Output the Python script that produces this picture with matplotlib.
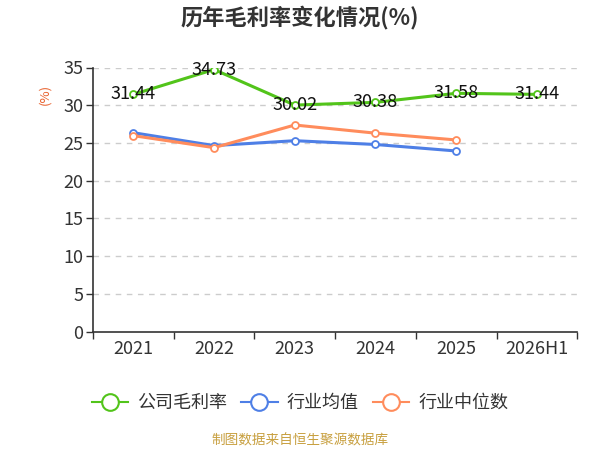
import matplotlib
matplotlib.use("Agg")
import matplotlib.pyplot as plt
from matplotlib.lines import Line2D

plt.rcParams['font.family'] = ['Noto Sans CJK SC', 'DejaVu Sans']

categories = ["2021", "2022", "2023", "2024", "2025", "2026H1"]
company = [31.44, 34.73, 30.02, 30.38, 31.58, 31.44]
industry_avg = [26.36, 24.65, 25.3, 24.8, 23.94]
industry_median = [25.97, 24.38, 27.38, 26.3, 25.4]
series_names = ["公司毛利率", "行业均值", "行业中位数"]
yticks = [0, 5, 10, 15, 20, 25, 30, 35]

green = "#52c41a"
blue = "#4e7fe6"
orange = "#ff8c5c"
colors = [green, blue, orange]

fig = plt.figure(figsize=(6, 4.5), dpi=100)
ax = fig.add_axes([0.155, 0.263, 0.807, 0.587])

x = list(range(len(categories)))
mk = dict(marker='o', markersize=5, markerfacecolor='white', markeredgewidth=1.3)
ax.plot(x, company, color=green, lw=2.2, markeredgecolor=green, zorder=3, **mk)
ax.plot(x[:len(industry_avg)], industry_avg, color=blue, lw=2.2, markeredgecolor=blue, zorder=3, **mk)
ax.plot(x[:len(industry_median)], industry_median, color=orange, lw=2.2, markeredgecolor=orange, zorder=3, **mk)

for xi, v in zip(x, company):
    ax.text(xi, v, f"{v:.2f}", ha='center', va='center', fontsize=13, color='#111111', zorder=4)

ax.set_xlim(-0.5, len(categories) - 0.5)
ax.set_ylim(0, 35)
ax.set_yticks(yticks)
ax.set_yticklabels([str(t) for t in yticks], fontsize=13, color='#333333')
ax.set_xticks(x)
ax.set_xticklabels(categories, fontsize=13, color='#333333')
ax.set_xticks([i - 0.5 for i in range(len(categories) + 1)], minor=True)
ax.tick_params(axis='x', which='major', length=0, pad=6)
ax.tick_params(axis='x', which='minor', length=5, width=1, color='#333333', direction='out')
ax.tick_params(axis='y', length=5, width=1, color='#333333', direction='out', pad=2)

for t in yticks[1:]:
    ax.axhline(t, color='#cccccc', lw=1, ls=(0, (4, 4)), zorder=1)

for s in ['top', 'right']:
    ax.spines[s].set_visible(False)
ax.spines['left'].set_color('#333333')
ax.spines['bottom'].set_color('#333333')
ax.spines['left'].set_linewidth(1.2)
ax.spines['bottom'].set_linewidth(1.2)

fig.text(0.075, 0.79, "(%)", rotation=90, color='#e8602c', fontsize=9.5, ha='center', va='center')

fig.text(0.5, 1 - 17 / 450, "历年毛利率变化情况(%)", ha='center', va='center', fontsize=16,
         fontweight='bold', color='#333333')

handles = [Line2D([], [], color=c, lw=1.5, marker='o', markersize=12, markerfacecolor='white',
                  markeredgecolor=c, markeredgewidth=1.5) for c in colors]
leg = fig.legend(handles=handles, labels=series_names, loc='center', bbox_to_anchor=(0.5, 1 - 403 / 450), ncol=3,
                 frameon=False, fontsize=13, handlelength=2.0, columnspacing=0.8, handletextpad=0.5,
                 labelcolor='#333333')

fig.text(0.5, 1 - 440 / 450, "制图数据来自恒生聚源数据库", ha='center', va='center', fontsize=9.8, color='#c8a040')

fig.savefig("out.png", dpi=100)
